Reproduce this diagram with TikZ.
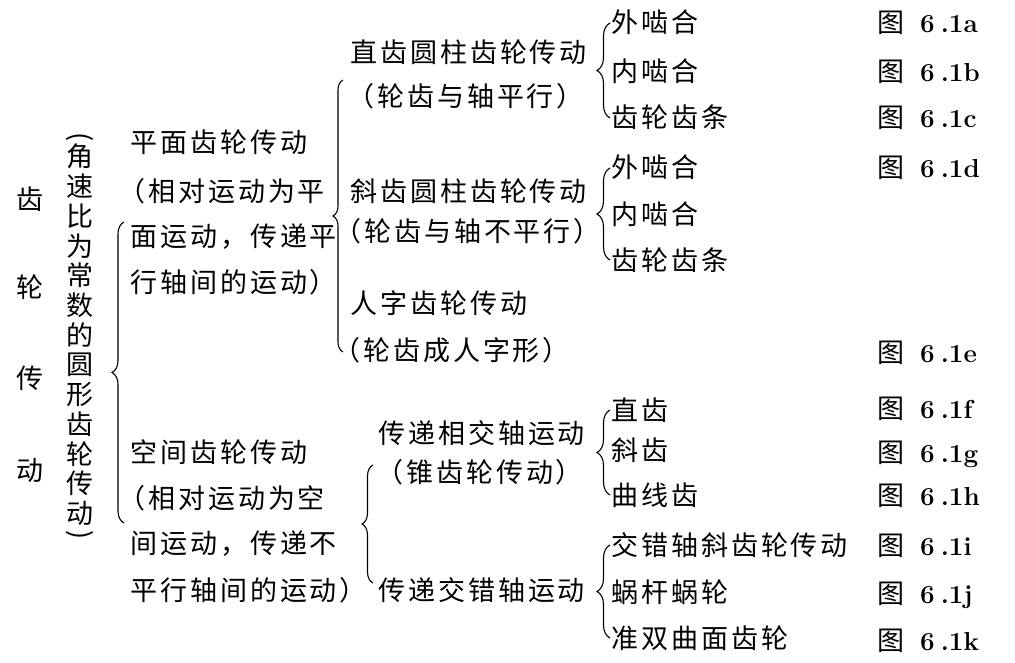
\documentclass[tikz,border=0pt]{standalone}
\usepackage{fontspec}
\newfontfamily\cjk[LetterSpace=11]{Noto Sans CJK SC}
\newfontfamily\cjkv{Noto Sans CJK SC}
\newcommand\lmfig{\normalfont\bfseries\fontsize{26}{30}\selectfont}
\usetikzlibrary{decorations.pathreplacing}

\begin{document}
\begin{tikzpicture}[x=1pt, y=-1pt,
    txt/.style={anchor=west, inner sep=0pt, text height=23pt, text depth=3pt,
      font=\cjk\fontsize{27}{30}\selectfont},
    col/.style={txt, anchor=center, font=\cjkv\fontsize{27}{30}\selectfont},
    vpar/.style={inner sep=0pt, font=\cjkv\fontsize{27}{30}\selectfont},
    fig/.style={txt},
    gbrace/.style={decorate, decoration={brace, amplitude=#1}, line width=1.1pt},
    gbrace/.default=13pt]
    \useasboundingbox (0,0) rectangle (1015,663);

    % title, one character per row
    \foreach \c/\y [count=\i] in {齿/200, 轮/288, 传/378, 动/470}
        \node[col] (t\i) at (30,\y) {\c};

    % vertical note, the brackets turned on their side
    \node[vpar] (vl) at (80,137) {\rotatebox{-90}{(}};
    \foreach \c [count=\i] in {角,速,比,为,常,数,的,圆,形,齿,轮,传,动}
        \node[col] (v\i) at (80,{157+29.7*(\i-1)}) {\c};
    \node[vpar] (vr) at (80,535) {\rotatebox{-90}{)}};

    % plane and spatial gearing
    \node[txt] (p1) at (130,143) {平面齿轮传动};
    \node[txt] (p2) at (118,192) {（相对运动为平};
    \node[txt] (p3) at (130,237) {面运动，传递平};
    \node[txt] (p4) at (130,282) {行轴间的运动）};
    \node[txt] (s1) at (130,452) {空间齿轮传动};
    \node[txt] (s2) at (118,498) {（相对运动为空};
    \node[txt] (s3) at (130,543) {间运动，传递不};
    \node[txt] (s4) at (130,590) {平行轴间的运动）};

    % third level
    \node[txt] (c1) at (350,53) {直齿圆柱齿轮传动};
    \node[txt] (c2) at (347,97) {（轮齿与轴平行）};
    \node[txt] (h1) at (350,192) {斜齿圆柱齿轮传动};
    \node[txt] (h2) at (334,232) {（轮齿与轴不平行）};
    \node[txt] (r1) at (350,303) {人字齿轮传动};
    \node[txt] (r2) at (333,350) {（轮齿成人字形）};
    \node[txt] (x1) at (378,433) {传递相交轴运动};
    \node[txt] (x2) at (376,472) {（锥齿轮传动）};
    \node[txt] (y1) at (378,590) {传递交错轴运动};

    % leaves
    \foreach \t/\y [count=\i] in {外啮合/23, 内啮合/72, 齿轮齿条/118,
        外啮合/168, 内啮合/215, 齿轮齿条/260, 直齿/410, 斜齿/450, 曲线齿/495,
        交错轴斜齿轮传动/545, 蜗杆蜗轮/592, 准双曲面齿轮/638}
        \node[txt] (k\i) at (611,\y) {\t};

    % figure numbers
    \foreach \n/\y in {a/23, b/72, c/118, d/168, e/352, f/408, g/452,
        h/495, i/545, j/593, k/640}
        \node[fig] (f\n) at (877,\y) {图\hspace{16pt}{\lmfig 6\hspace{6pt}.1\n}};

    % braces
    \draw[gbrace=12pt] (124,523) -- (124,222);
    \draw[gbrace=10pt] (343,352) -- (343,80);
    \draw[gbrace=11pt] (373,583) -- (373,465);
    \draw[gbrace] ([xshift=-1pt]k3.west) -- ([xshift=-1pt]k1.west);
    \draw[gbrace] ([xshift=-1pt]k6.west) -- ([xshift=-1pt]k4.west);
    \draw[gbrace] ([xshift=-1pt]k9.west) -- ([xshift=-1pt]k7.west);
    \draw[gbrace] ([xshift=-1pt]k12.west) -- ([xshift=-1pt]k10.west);
\end{tikzpicture}
\end{document}
